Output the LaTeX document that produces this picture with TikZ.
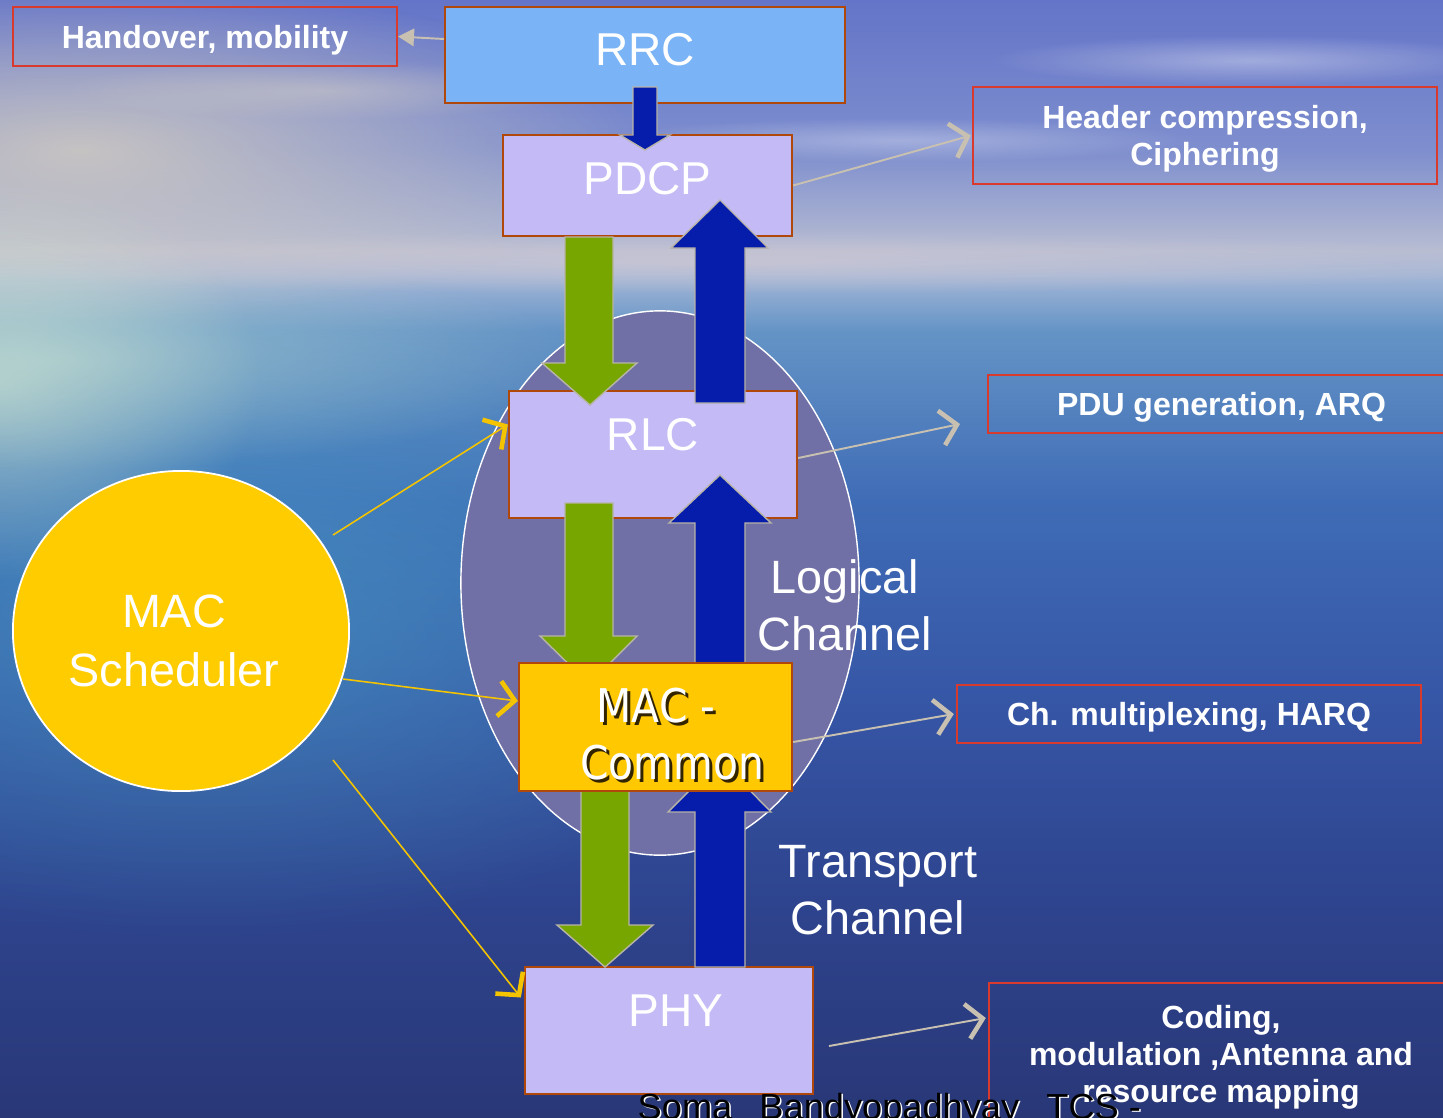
\documentclass[tikz,border=0pt]{standalone}
\usepackage{fontspec}
\setmainfont{Liberation Sans}
\newfontfamily\macfont[FakeStretch=0.88]{DejaVu Sans}
\usetikzlibrary{arrows.meta,shapes.geometric,fadings}
\definecolor{bgA}{HTML}{293777}
\definecolor{bgB}{HTML}{2E448E}
\definecolor{bgC}{HTML}{3656A6}
\definecolor{bgD}{HTML}{3F6CB6}
\definecolor{bgE}{HTML}{6494C6}
\definecolor{bgF}{HTML}{A4B6D6}
\definecolor{bgG}{HTML}{B6BCD2}
\definecolor{bgH}{HTML}{7E8ECE}
\definecolor{bgI}{HTML}{6474C8}
\definecolor{rrcfill}{HTML}{7AB4F6}
\definecolor{layfill}{HTML}{C4BAF6}
\definecolor{brownline}{HTML}{B0480C}
\definecolor{macfill}{HTML}{FFC800}
\definecolor{ellfill}{HTML}{7070A6}
\definecolor{grarrow}{HTML}{78A600}
\definecolor{blarrow}{HTML}{061CAA}
\definecolor{arrline}{HTML}{B8B4A8}
\definecolor{yelline}{HTML}{F5C400}
\definecolor{greyline}{HTML}{C8C0B0}
\definecolor{redline}{HTML}{D83A2E}
\definecolor{schedfill}{HTML}{FFCC00}
\pgfdeclareverticalshading{seasky}{100bp}{color(0bp)=(bgA); color(25bp)=(bgA); color(34.7bp)=(bgB); color(43.7bp)=(bgC); color(52.6bp)=(bgD); color(60.2bp)=(bgE); color(62.7bp)=(bgF); color(63.8bp)=(bgG); color(68.3bp)=(bgH); color(75bp)=(bgI); color(100bp)=(bgI)}
\tikzfading[name=glow, inner color=transparent!0, outer color=transparent!100]
\tikzset{
  layerbox/.style={draw=brownline, line width=0.6pt, fill=layfill, rectangle, inner sep=0pt, text=white, font=\fontsize{13.1}{15}\selectfont, text height=0.59cm, text depth=0.68cm, minimum width=2.88cm},
  infobox/.style={draw=redline, line width=0.6pt, rectangle, inner sep=0pt, text=white, align=center, text depth=0pt, font=\bfseries\fontsize{9.1}{10.3}\selectfont},
  bigtext/.style={text=white, align=center, inner sep=0pt, font=\fontsize{13.3}{16.2}\selectfont},
  blockarrow/.style={draw=arrline, line width=0.4pt},
  yelarrow/.style={draw=yelline, line width=0.45pt, -{Straight Barb[length=4.5pt,width=10pt,line width=1.3pt]}},
  greyarrow/.style={draw=greyline, line width=0.55pt, -{Straight Barb[length=4.5pt,width=10pt,line width=1.3pt]}}
}
\begin{document}
\begin{tikzpicture}[x=0.01cm,y=-0.01cm]
\useasboundingbox (0,0) rectangle (1443,1117);
\clip (0,0) rectangle (1443,1117);
% background
\shade[shading=seasky] (0,0) rectangle (1443,1117);
\fill[color={rgb,255:red,216;green,208;blue,192}, path fading=glow, fill opacity=0.8] (80,150) ellipse (560 and 170);
\fill[color={rgb,255:red,74;green,168;blue,200}, path fading=glow, fill opacity=0.55] (200,620) ellipse (620 and 320);
\fill[color={rgb,255:red,216;green,236;blue,208}, path fading=glow, fill opacity=0.6] (0,380) ellipse (260 and 200);
\fill[color={rgb,255:red,200;green,226;blue,210}, path fading=glow, fill opacity=0.5] (60,360) ellipse (520 and 110);
\fill[color={rgb,255:red,214;green,204;blue,212}, path fading=glow, fill opacity=0.6] (720,262) ellipse (900 and 32);
\fill[white, path fading=glow, fill opacity=0.35] (1250,60) ellipse (260 and 25);
\fill[white, path fading=glow, fill opacity=0.3] (900,140) ellipse (300 and 22);
\fill[color={rgb,255:red,224;green,216;blue,200}, path fading=glow, fill opacity=0.4] (320,90) ellipse (260 and 30);

% big ellipse
\node[ellipse, draw=white, line width=0.4pt, fill=ellfill, minimum width=3.98cm, minimum height=5.44cm, inner sep=0pt] (grp) at (660,583) {};

% layer boxes
\node[layerbox, fill=rrcfill, minimum width=4cm, text height=0.58cm, text depth=0.38cm] (rrc) at (645,55) {RRC};
\node[layerbox, minimum width=2.89cm, text height=0.59cm, text depth=0.42cm] (pdcp) at (647.5,185.5) {PDCP};
\node[layerbox] (rlc) at (653,454.5) {RLC};
\node[layerbox] (phy) at (669,1030.5) {\hspace*{0.14cm}PHY};

% block arrows
\filldraw[blockarrow, fill=blarrow] (633,87) -- (657,87) -- (657,135) -- (670,135) -- (645,150) -- (620,135) -- (633,135) -- cycle;
\filldraw[blockarrow, fill=grarrow] (565,237) -- (613,237) -- (613,363) -- (637,363) -- (590,405) -- (542,363) -- (565,363) -- cycle;
\filldraw[blockarrow, fill=blarrow] (695,403) -- (745,403) -- (745,248) -- (768,248) -- (720,200) -- (671,248) -- (695,248) -- cycle;
\filldraw[blockarrow, fill=grarrow] (565,503) -- (613,503) -- (613,636) -- (637,636) -- (589,684) -- (540,636) -- (565,636) -- cycle;
\filldraw[blockarrow, fill=blarrow] (695,700) -- (745,700) -- (745,523) -- (771,523) -- (720,475) -- (669,523) -- (695,523) -- cycle;
\filldraw[blockarrow, fill=grarrow] (581,780) -- (629,780) -- (629,925) -- (653,925) -- (605,967) -- (557,925) -- (581,925) -- cycle;
\filldraw[blockarrow, fill=blarrow] (695,967) -- (745,967) -- (745,812) -- (771,812) -- (720,760) -- (668,812) -- (695,812) -- cycle;

% MAC common
\node[draw=brownline, line width=0.6pt, fill=macfill, rectangle, inner sep=0pt, minimum width=2.73cm, minimum height=1.28cm] (mac) at (655.5,727) {};
\node[bigtext, text={rgb,255:red,50;green,36;blue,0}, font=\macfont\fontsize{13.2}{16.4}\selectfont] (macsh) at (659,737) {MAC -\\\hspace*{0.7em}Common};
\node[bigtext, font=\macfont\fontsize{13.2}{16.4}\selectfont] (mact) at (656,734) {MAC -\\\hspace*{0.7em}Common};

% channel labels
\node[bigtext] (logch) at (845,605) {Logical\\Channel};
\node[bigtext] (trch) at (878,890) {Transport\\Channel};

% MAC scheduler
\node[ellipse, draw=white, line width=0.5pt, fill=schedfill, minimum width=3.36cm, minimum height=3.2cm, inner sep=0pt] (sched) at (181,631) {};
\node[bigtext, font=\fontsize{13.3}{16.7}\selectfont] (schedt) at (174,641) {MAC\\Scheduler};

% info boxes
\node[infobox, minimum width=3.84cm, minimum height=0.59cm] (hand) at (205,36.5) {Handover, mobility};
\node[infobox, minimum width=4.64cm, minimum height=0.97cm] (hdr) at (1205,135.5) {Header compression,\\Ciphering};
\node[infobox, minimum width=4.67cm, minimum height=0.58cm] (pdu) at (1221.5,404) {PDU generation, ARQ};
\node[infobox, minimum width=4.64cm, minimum height=0.58cm] (chm) at (1189,714) {Ch. multiplexing, HARQ};
\node[infobox, minimum width=4.64cm, minimum height=1.42cm, font=\bfseries\fontsize{9.1}{10.5}\selectfont] (cod) at (1221,1054) {Coding,\\modulation ,Antenna and\\resource mapping};

% connectors
\coordinate (s1) at (333,535);
\coordinate (s2) at (343,679);
\coordinate (s3) at (333,760);
\draw[yelarrow] (s1) -- ([yshift=3mm]rlc.west);
\draw[yelarrow] (s2) -- ([yshift=2.6mm]mac.west);
\draw[yelarrow] (s3) -- ([xshift=-0.3mm,yshift=3.3mm]phy.west);

\draw[draw=greyline, line width=0.55pt, -{Triangle[length=4.5pt,width=5pt]}] ([yshift=1.6mm]rrc.west) -- (hand.east);
\draw[greyarrow] (pdcp.east) -- ([xshift=-0.1mm]hdr.west);
\coordinate (pdutip) at (960,424);
\draw[greyarrow] ([yshift=-0.35mm]rlc.east) -- (pdutip);
\draw[greyarrow] ([yshift=-1.5mm]mac.east) -- ([xshift=-0.2mm]chm.west);
\coordinate (physt) at (829,1046);
\draw[greyarrow] (physt) -- ([xshift=-0.2mm,yshift=3.6mm]cod.west);

% footer
\node[anchor=base west, inner sep=0pt, text=white, font=\fontsize{10.3}{12}\selectfont] (footsh) at (638.5,1120) {Soma\hspace{0.75em}Bandyopadhyay\hspace{0.75em}TCS -};
\node[anchor=base west, inner sep=0pt, text=black, font=\fontsize{10.3}{12}\selectfont] (foot) at (637,1119) {Soma\hspace{0.75em}Bandyopadhyay\hspace{0.75em}TCS -};
\end{tikzpicture}
\end{document}
